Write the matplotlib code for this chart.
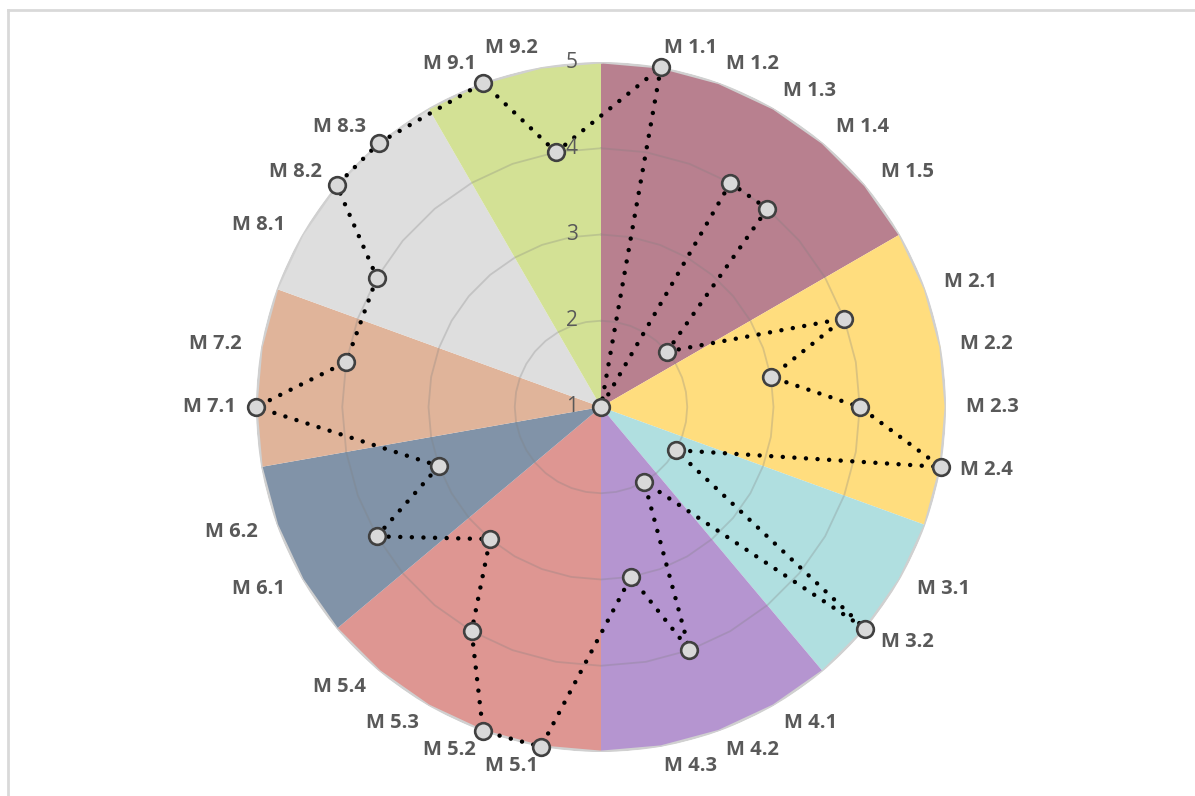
import numpy as np
import matplotlib
matplotlib.use('Agg')
import matplotlib.pyplot as plt
from matplotlib.lines import Line2D

# 36 radar slots: each measure group is preceded by an empty spacer slot
categories = ['', 'M 1.1', 'M 1.2', 'M 1.3', 'M 1.4', 'M 1.5',
              '', 'M 2.1', 'M 2.2', 'M 2.3', 'M 2.4',
              '', 'M 3.1', 'M 3.2',
              '', 'M 4.1', 'M 4.2', 'M 4.3',
              '', 'M 5.1', 'M 5.2', 'M 5.3', 'M 5.4',
              '', 'M 6.1', 'M 6.2',
              '', 'M 7.1', 'M 7.2',
              '', 'M 8.1', 'M 8.2', 'M 8.3',
              '', 'M 9.1', 'M 9.2']
scores = [None, 5, 1, 4, 4, 2,
          None, 4, 3, 4, 5,
          None, 2, 5,
          None, 2, 4, 3,
          None, 5, 5, 4, 3,
          None, 4, 3,
          None, 5, 4,
          None, 4, 5, 5,
          None, 5, 4]
group_colors = ['#B8808F', '#FFDD7E', '#B0DFE0', '#B595D0', '#DE9692',
                '#8193A8', '#E0B49A', '#DEDEDE', '#D3E195']
scale_ticks = [1, 2, 3, 4, 5]

R_MIN, R_MAX = 1, 5
n = len(categories)
theta = 2 * np.pi * np.arange(n + 1) / n

fig = plt.figure(figsize=(11.95, 7.96), dpi=100)
ax = fig.add_axes([256 / 1195, 44 / 796, 690 / 1195, 690 / 796], projection='polar')
ax.set_theta_zero_location('N')
ax.set_theta_direction(-1)
ax.set_ylim(R_MIN, R_MAX)
ax.axis('off')

# coloured group sectors, each running between its two spacer slots
gaps = [i for i, c in enumerate(categories) if c == ''] + [n]
for k, color in enumerate(group_colors):
    a, b = gaps[k], gaps[k + 1]
    th = np.concatenate([[theta[a]], theta[a:b + 1], [theta[b]]])
    rr = [R_MIN] + [R_MAX] * (b - a + 1) + [R_MIN]
    ax.fill(th, rr, color=color, lw=0, zorder=1)

# polygonal grid rings
for v in scale_ticks[1:-1]:
    ax.plot(theta, [v] * (n + 1), color='#7F7F7F', alpha=0.28, lw=1.3, zorder=2)
ax.plot(theta, [R_MAX] * (n + 1), color='#D0D0D0', lw=2, zorder=2)

# scores, skipping the spacer slots and closing the loop
idx = [i for i, s in enumerate(scores) if s is not None]
th_pts = [theta[i] for i in idx] + [theta[idx[0]]]
r_pts = [scores[i] for i in idx] + [scores[idx[0]]]
ax.plot(th_pts, r_pts, color='black', lw=3.2, linestyle=(0, (0.01, 2.6)),
        dash_capstyle='round', zorder=3, clip_on=False)
ax.plot(th_pts[:-1], r_pts[:-1], 'o', ms=12, mfc='#D9D9D9', mec='#404040',
        mew=1.9, zorder=4, clip_on=False)

# category labels around the rim
label_r = R_MAX + 20 / 86.25
for i, lab in enumerate(categories):
    if not lab:
        continue
    deg = 360 * i / n
    ha = 'left' if 0 < deg < 180 else ('right' if deg > 180 else 'center')
    ax.text(theta[i], label_r, lab, ha=ha, va='center', fontsize=14.5,
            fontweight='bold', color='#595959', family='Open Sans')

# value labels along the vertical axis
for v in scale_ticks:
    ax.annotate(str(v), xy=(0, v), xytext=(-21, 0), textcoords='offset points',
                ha='center', va='center', fontsize=15, color='#595959',
                family='Open Sans', zorder=5)

# chart area border
fig.add_artist(Line2D([8 / 1195, 8 / 1195], [0, 1 - 10 / 796], color='#D9D9D9', lw=2))
fig.add_artist(Line2D([8 / 1195, 1], [1 - 10 / 796, 1 - 10 / 796], color='#D9D9D9', lw=2))

fig.savefig('out.png', dpi=100, facecolor='white')
